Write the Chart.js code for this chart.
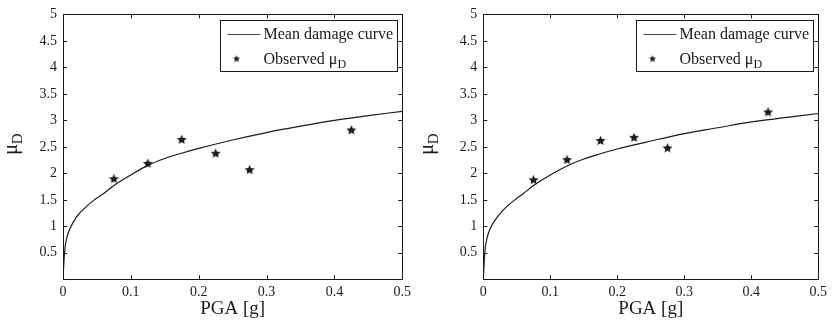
<!DOCTYPE html>
<html><head><meta charset="utf-8">
<script src="https://cdn.jsdelivr.net/npm/chart.js@4.4.1/dist/chart.umd.min.js"></script>
<style>
html,body{margin:0;padding:0;background:#fff;width:832px;height:322px;overflow:hidden}
.w{position:absolute;top:0;width:416px;height:322px}
</style></head><body>
<div class="w" style="left:0"><canvas id="c1" width="416" height="322"></canvas></div>
<div class="w" style="left:416px"><canvas id="c2" width="416" height="322"></canvas></div>
<script>
// ---- data ----
const pgaCurve       = [0, 0.0015, 0.003, 0.006, 0.01, 0.02, 0.03, 0.045, 0.06, 0.075, 0.1, 0.125, 0.15, 0.175, 0.2, 0.25, 0.3, 0.35, 0.4, 0.45, 0.5];
const meanCurveLeft  = [0, 0.36, 0.6, 0.8, 0.95, 1.18, 1.32, 1.49, 1.62, 1.77, 1.97, 2.15, 2.28, 2.38, 2.47, 2.63, 2.77, 2.89, 3.0, 3.09, 3.17];
const meanCurveRight = [0, 0.36, 0.6, 0.8, 0.95, 1.16, 1.31, 1.48, 1.62, 1.77, 1.97, 2.14, 2.27, 2.37, 2.46, 2.61, 2.75, 2.86, 2.97, 3.05, 3.13];
const pgaObs   = [0.075, 0.125, 0.175, 0.225, 0.275, 0.425];
const obsLeft  = [1.90, 2.19, 2.64, 2.38, 2.07, 2.82];
const obsRight = [1.88, 2.26, 2.62, 2.68, 2.48, 3.16];
const xTicks = [0, 0.1, 0.2, 0.3, 0.4, 0.5];
const yTicks = [0.5, 1, 1.5, 2, 2.5, 3, 3.5, 4, 4.5, 5];
const xTitle = 'PGA [g]';
const yTitle = ['μ', 'D'];
const legendLine = 'Mean damage curve';
const legendStar = ['Observed μ', 'D'];

const SERIF = "'Liberation Serif', 'Times New Roman', serif";
const INK = '#1a1a1a';

function makeStar(r, inner) {
  const s = Math.ceil(r * 2 + 2);
  const c = document.createElement('canvas');
  c.width = s; c.height = s;
  const g = c.getContext('2d');
  g.translate(s / 2, s / 2 + 0.4);
  g.beginPath();
  for (let i = 0; i < 10; i++) {
    const rad = i % 2 === 0 ? r : r * inner;
    const a = -Math.PI / 2 + i * Math.PI / 5;
    g.lineTo(rad * Math.cos(a), rad * Math.sin(a));
  }
  g.closePath();
  g.fillStyle = INK;
  g.fill();
  return c;
}
const starBig = makeStar(5.2, 0.47);
const starSmall = makeStar(3.7, 0.47);

const framePlugin = {
  id: 'frame',
  afterDatasetsDraw(chart) {
    const { ctx, chartArea: a, scales } = chart;
    ctx.save();
    ctx.strokeStyle = INK;
    ctx.lineWidth = 1;
    ctx.beginPath();
    const L = 4;
    xTicks.forEach(v => {
      const px = Math.round(scales.x.getPixelForValue(v)) + 0.5;
      ctx.moveTo(px, a.bottom); ctx.lineTo(px, a.bottom - L);
      ctx.moveTo(px, a.top); ctx.lineTo(px, a.top + L);
    });
    yTicks.forEach(v => {
      const py = Math.round(scales.y.getPixelForValue(v)) + 0.5;
      ctx.moveTo(a.left, py); ctx.lineTo(a.left + L, py);
      ctx.moveTo(a.right, py); ctx.lineTo(a.right - L, py);
    });
    ctx.stroke();
    ctx.strokeRect(Math.round(a.left) + 0.5, Math.round(a.top) + 0.5,
                   Math.round(a.right - a.left), Math.round(a.bottom - a.top));

    // y-axis title  μ_D
    ctx.fillStyle = INK;
    ctx.translate(17, (a.top + a.bottom) / 2 + 8);
    ctx.rotate(-Math.PI / 2);
    ctx.textBaseline = 'alphabetic';
    ctx.textAlign = 'left';
    ctx.font = '20px ' + SERIF;
    ctx.fillText(yTitle[0], 0, 0);
    const w = ctx.measureText(yTitle[0]).width;
    ctx.font = '15px ' + SERIF;
    ctx.fillText(yTitle[1], w, 5);
    ctx.restore();

    // legend (inside, upper right)
    ctx.save();
    const bw = 177, bh = 51;
    const bx = Math.round(a.right - 5 - bw) + 0.5, by = Math.round(a.top + 6) + 0.5;
    ctx.fillStyle = '#fff';
    ctx.fillRect(bx, by, bw, bh);
    ctx.strokeStyle = INK;
    ctx.lineWidth = 1;
    ctx.strokeRect(bx, by, bw, bh);
    const r1 = by + 13, r2 = by + 38;
    ctx.beginPath();
    ctx.moveTo(bx + 7, Math.round(r1) + 0.5); ctx.lineTo(bx + 40, Math.round(r1) + 0.5);
    ctx.strokeStyle = '#444';
    ctx.stroke();
    ctx.drawImage(starSmall, bx + 16 - starSmall.width / 2, r2 - starSmall.height / 2);
    ctx.fillStyle = INK;
    ctx.font = '16px ' + SERIF;
    ctx.textBaseline = 'middle';
    ctx.fillText(legendLine, bx + 43, r1 + 1);
    ctx.fillText(legendStar[0], bx + 43, r2 + 1);
    const w2 = ctx.measureText(legendStar[0]).width;
    ctx.font = '12px ' + SERIF;
    ctx.fillText(legendStar[1], bx + 43 + w2, r2 + 6);
    ctx.restore();
  }
};

function build(id, curve, obs, leftW, rightPad) {
  return new Chart(document.getElementById(id), {
    type: 'scatter',
    data: {
      datasets: [
        {
          label: legendLine,
          data: pgaCurve.map((x, i) => ({ x, y: curve[i] })),
          showLine: true,
          borderColor: INK,
          borderWidth: 1.2,
          pointRadius: 0,
          cubicInterpolationMode: 'monotone',
          order: 2
        },
        {
          label: legendStar.join(''),
          data: pgaObs.map((x, i) => ({ x, y: obs[i] })),
          showLine: false,
          pointStyle: starBig,
          pointRadius: 5,
          order: 1
        }
      ]
    },
    options: {
      responsive: false,
      animation: false,
      events: [],
      layout: { padding: { left: 0, right: rightPad, top: 13.3, bottom: 0 } },
      plugins: { legend: { display: false }, tooltip: { enabled: false } },
      scales: {
        x: {
          type: 'linear', min: 0, max: 0.5,
          afterBuildTicks: s => { s.ticks = xTicks.map(v => ({ value: v })); },
          afterFit: s => { s.height = 42.7; },
          grid: { display: false, drawTicks: false },
          border: { display: false },
          ticks: { color: INK, padding: 5, font: { family: SERIF, size: 14 }, maxRotation: 0,
                   callback: v => String(v) },
          title: { display: true, text: xTitle, color: INK, padding: { top: 0, bottom: 2 },
                   font: { family: SERIF, size: 19 } }
        },
        y: {
          type: 'linear', min: 0, max: 5,
          afterBuildTicks: s => { s.ticks = yTicks.map(v => ({ value: v })); },
          afterFit: s => { s.width = leftW; },
          grid: { display: false, drawTicks: false },
          border: { display: false },
          ticks: { color: INK, padding: 6, font: { family: SERIF, size: 14 },
                   callback: v => String(v) }
        }
      }
    },
    plugins: [framePlugin]
  });
}
build('c1', meanCurveLeft, obsLeft, 63, 416 - 402.3);
build('c2', meanCurveRight, obsRight, 67.3, 416 - 407.3);
</script>
</body></html>
